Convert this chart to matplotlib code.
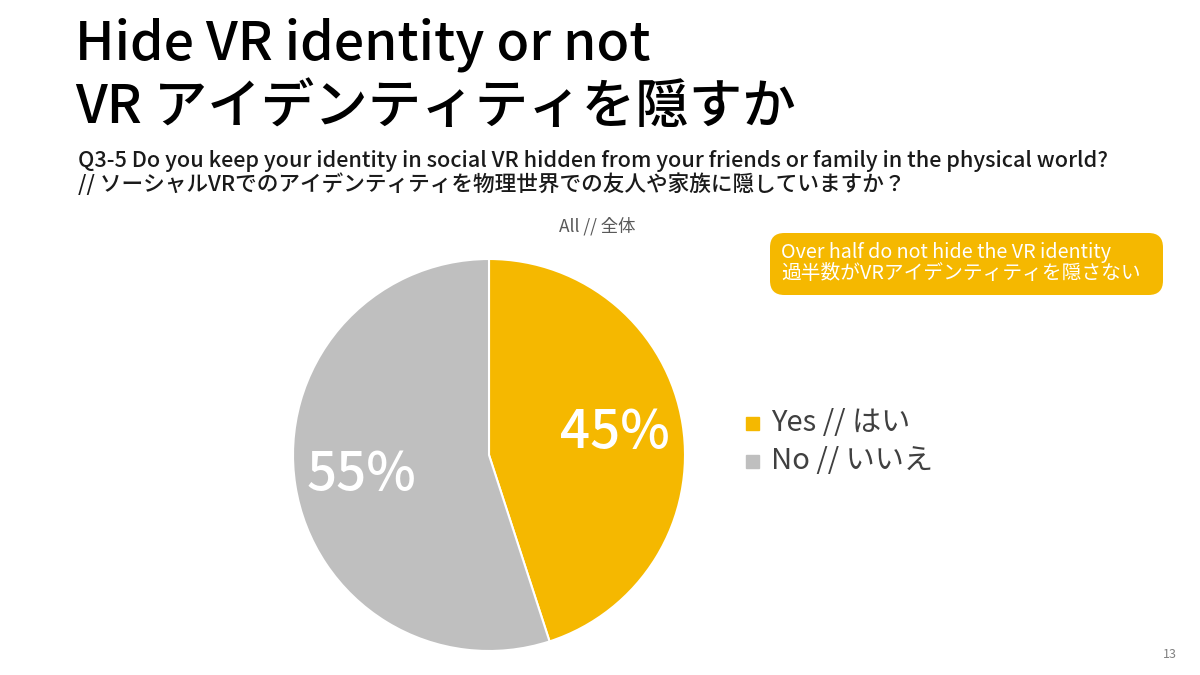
import matplotlib
matplotlib.use("Agg")
import matplotlib.pyplot as plt
from matplotlib.patches import FancyBboxPatch

plt.rcParams['font.family'] = ['Noto Sans CJK JP', 'DejaVu Sans']

labels = ["Yes // はい", "No // いいえ"]
shares = [45, 55]
colors = ["#F5B800", "#BFBFBF"]

title_lines = ["Hide VR identity or not", "VR アイデンティティを隠すか"]
question = ("Q3-5 Do you keep your identity in social VR hidden from your friends or family in the physical world?\n"
            "// ソーシャルVRでのアイデンティティを物理世界での友人や家族に隠していますか？")
group_label = "All // 全体"
callout = "Over half do not hide the VR identity\n過半数がVRアイデンティティを隠さない"
page_no = "13"

W, H = 1200, 675
fig = plt.figure(figsize=(12, 6.75), dpi=100)

def fx(px):
    return px / W

def fy(py):
    return 1 - py / H

# titles
fig.text(fx(75), fy(45), title_lines[0], fontsize=38.5, color="black", va="center", ha="left",
         fontweight="medium")
fig.text(fx(75), fy(108), title_lines[1], fontsize=38.5, color="black", va="center", ha="left",
         fontweight="medium")
fig.text(fx(78), fy(173), question, fontsize=15.6, color="#1a1a1a", va="center", ha="left",
         linespacing=1.05, fontweight="medium")
fig.text(fx(597), fy(226), group_label, fontsize=12.5, color="#595959", ha="center", va="center")

# pie
cx, cy, r = 489, 455, 196
ax = fig.add_axes([fx(cx - r), fy(cy + r), 2 * r / W, 2 * r / H])
wedges, _ = ax.pie(shares, colors=colors, startangle=90, counterclock=False,
                   wedgeprops=dict(edgecolor="white", linewidth=1.5))
ax.set_aspect("equal")
ax.set_xlim(-1, 1)
ax.set_ylim(-1, 1)
ax.axis("off")

label_pos = [(0.64, 0.11), (-0.65, -0.10)]
for (lx, ly), s in zip(label_pos, shares):
    ax.text(lx, ly, f"{s}%", color="white", fontsize=38, ha="center", va="center",
            fontweight="medium")

# legend
for i, (lab, col) in enumerate(zip(labels, colors)):
    y = 423 + i * 38
    fig.patches.append(plt.Rectangle((fx(746), fy(y + 7)), 13 / W, 13 / H, color=col,
                                     transform=fig.transFigure, figure=fig))
    fig.text(fx(771), fy(y), lab, fontsize=21, color="#404040", va="center", ha="left")

# callout box
bx0, by0, bx1, by1 = 770, 233, 1163, 295
box = FancyBboxPatch((fx(bx0), fy(by1)), (bx1 - bx0) / W, (by1 - by0) / H,
                     boxstyle="round,pad=0,rounding_size=0.012", transform=fig.transFigure,
                     facecolor="#F5B800", edgecolor="none", mutation_aspect=W / H)
fig.patches.append(box)
fig.text(fx(781), fy(263), callout, fontsize=14.2, color="white", va="center", ha="left",
         linespacing=1.0)

fig.text(fx(1170), fy(655), page_no, fontsize=9, color="#808080", ha="center", va="center")

fig.savefig("out.png", dpi=100, facecolor="white")
